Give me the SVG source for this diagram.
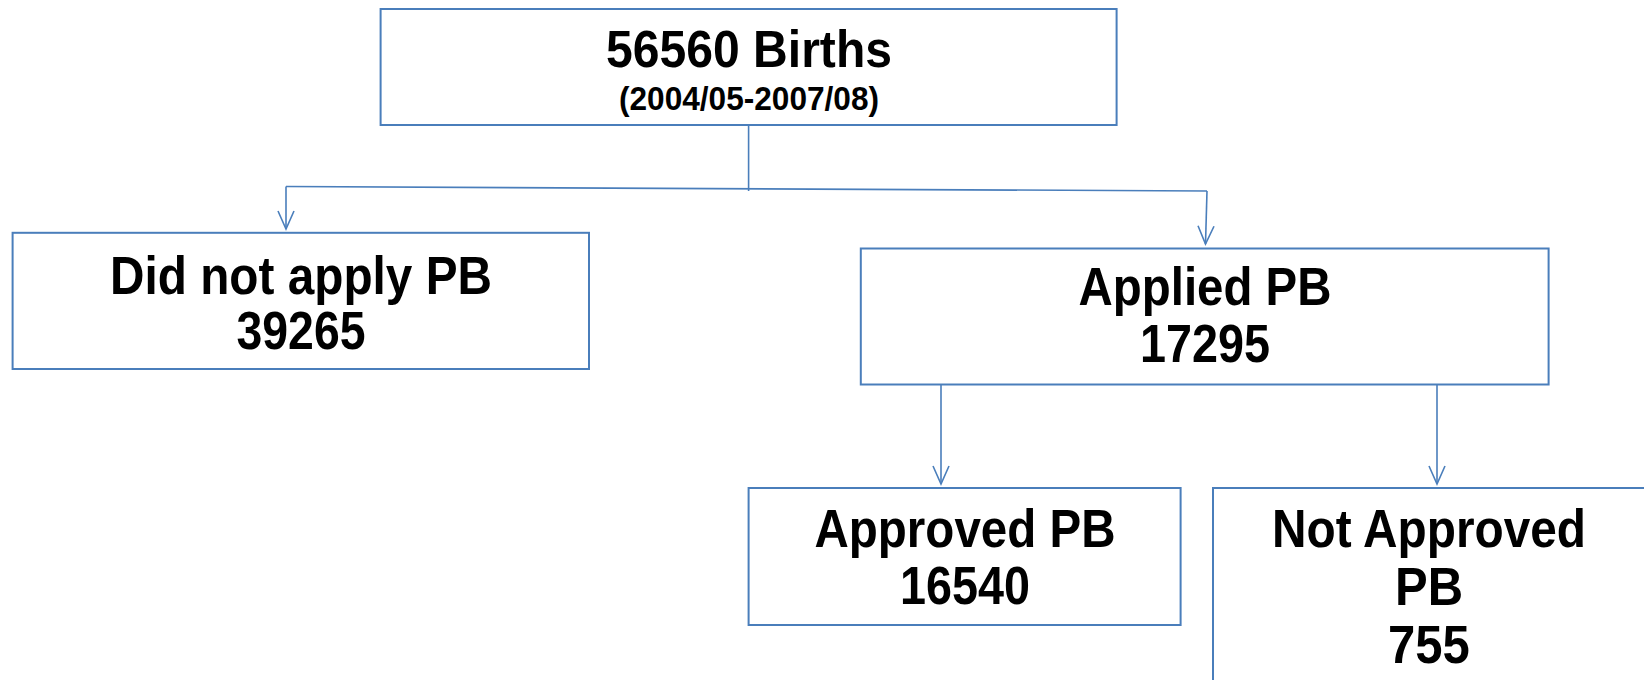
<svg xmlns="http://www.w3.org/2000/svg" width="1644" height="680" viewBox="0 0 1644 680">
<style>
.box{fill:#fff;stroke:#4a7ebb;stroke-width:2}
.con{fill:none;stroke:#4a7ebb;stroke-width:1.6}
.t{font-family:"Liberation Sans",Arial,sans-serif;font-weight:bold;fill:#000;text-anchor:middle}
.big{font-size:49px}
.small{font-size:31px}
</style>
<defs>
<marker id="arr" markerUnits="userSpaceOnUse" markerWidth="40" markerHeight="40" refX="0" refY="0" orient="auto" overflow="visible">
<path d="M-18,-8 L0,0 L-18,8" fill="none" stroke="#4a7ebb" stroke-width="1.6"/>
</marker>
</defs>
<rect width="1644" height="680" fill="#fff"/>
<g id="connectors">
<path class="con" d="M748.6,125 L748.6,191"/>
<path class="con" d="M286,186.5 L1207,191"/>
<path class="con" d="M286,186.5 L286,229" marker-end="url(#arr)"/>
<path class="con" d="M1207,191 L1205.5,244" marker-end="url(#arr)"/>
<path class="con" d="M941,385 L941,484" marker-end="url(#arr)"/>
<path class="con" d="M1437,385 L1437,484" marker-end="url(#arr)"/>
</g>
<g id="births">
<rect class="box" x="380.6" y="9" width="736" height="116"/>
<text class="t big" transform="translate(749,67) scale(1,1.06)" textLength="286" lengthAdjust="spacingAndGlyphs">56560 Births</text>
<text class="t small" transform="translate(749,110) scale(1,1.06)" textLength="260" lengthAdjust="spacingAndGlyphs">(2004/05-2007/08)</text>
</g>
<g id="did-not-apply">
<rect class="box" x="12.6" y="232.8" width="576.4" height="136.2"/>
<text class="t big" transform="translate(301,293.5) scale(1,1.1)" textLength="382" lengthAdjust="spacingAndGlyphs">Did not apply PB</text>
<text class="t big" transform="translate(301,349) scale(1,1.1)" textLength="129" lengthAdjust="spacingAndGlyphs">39265</text>
</g>
<g id="applied">
<rect class="box" x="860.8" y="248.5" width="687.8" height="136"/>
<text class="t big" transform="translate(1205,305) scale(1,1.1)" textLength="253" lengthAdjust="spacingAndGlyphs">Applied PB</text>
<text class="t big" transform="translate(1205,361.5) scale(1,1.1)" textLength="130" lengthAdjust="spacingAndGlyphs">17295</text>
</g>
<g id="approved">
<rect class="box" x="748.6" y="488" width="432" height="137"/>
<text class="t big" transform="translate(965,547.3) scale(1,1.1)" textLength="301" lengthAdjust="spacingAndGlyphs">Approved PB</text>
<text class="t big" transform="translate(965,604) scale(1,1.1)" textLength="130" lengthAdjust="spacingAndGlyphs">16540</text>
</g>
<g id="not-approved">
<rect class="box" x="1213" y="488" width="434" height="200"/>
<text class="t big" transform="translate(1429,547.3) scale(1,1.1)" textLength="314" lengthAdjust="spacingAndGlyphs">Not Approved</text>
<text class="t big" transform="translate(1429,605) scale(1,1.1)">PB</text>
<text class="t big" transform="translate(1429,662.7) scale(1,1.1)">755</text>
</g>
</svg>
